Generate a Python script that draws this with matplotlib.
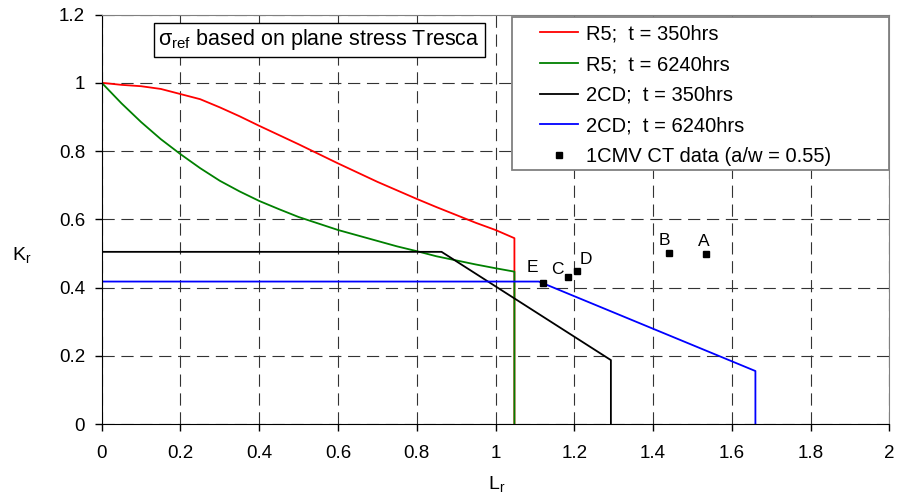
import matplotlib.pyplot as plt
from matplotlib.patches import Rectangle

plt.rcParams['font.family'] = ['Liberation Sans', 'DejaVu Sans']

# R5 failure assessment curves
r5_350_x = [0, 0.05, 0.1, 0.15, 0.2, 0.25, 0.3, 0.35, 0.4, 0.45, 0.5, 0.55, 0.6,
            0.65, 0.7, 0.75, 0.8, 0.85, 0.9, 0.95, 1.0, 1.048, 1.048]
r5_350_y = [1.0, 0.994, 0.99, 0.982, 0.967, 0.952, 0.928, 0.902, 0.874, 0.847, 0.82,
            0.792, 0.764, 0.737, 0.71, 0.685, 0.66, 0.636, 0.613, 0.59, 0.569, 0.545, 0]

r5_6240_x = [0, 0.05, 0.1, 0.15, 0.2, 0.25, 0.3, 0.35, 0.4, 0.45, 0.5, 0.55, 0.6,
             0.65, 0.7, 0.75, 0.8, 0.85, 0.9, 0.95, 1.0, 1.048, 1.048]
r5_6240_y = [1.0, 0.94, 0.885, 0.835, 0.791, 0.75, 0.713, 0.682, 0.654, 0.63, 0.607,
             0.588, 0.569, 0.553, 0.537, 0.521, 0.507, 0.492, 0.48, 0.468, 0.457, 0.447, 0]

# 2CD curves
cd_350_x = [0, 0.863, 1.293, 1.293]
cd_350_y = [0.505, 0.505, 0.188, 0]
cd_6240_x = [0, 1.11, 1.66, 1.66]
cd_6240_y = [0.418, 0.418, 0.156, 0]

# CT test data
ct_labels = ['A', 'B', 'C', 'D', 'E']
ct_x = [1.535, 1.44, 1.183, 1.206, 1.121]
ct_y = [0.498, 0.502, 0.432, 0.449, 0.414]

fig = plt.figure(figsize=(8.98, 5.0), dpi=100)
ax = fig.add_axes([0.1133, 0.1514, 0.877, 0.8196])

ax.plot(r5_350_x, r5_350_y, color='#ff0000', lw=1.3, label='R5;  t = 350hrs')
ax.plot(r5_6240_x, r5_6240_y, color='#008000', lw=1.3, label='R5;  t = 6240hrs')
ax.plot(cd_350_x, cd_350_y, color='black', lw=1.3, label='2CD;  t = 350hrs')
ax.plot(cd_6240_x, cd_6240_y, color='#0000ff', lw=1.3, label='2CD;  t = 6240hrs')
ax.plot(ct_x, ct_y, ls='none', marker='s', ms=4.5, color='black',
        label='1CMV CT data (a/w = 0.55)')

offsets = {'A': (-1.5, 9), 'B': (-3, 9), 'C': (-7, 5.5), 'D': (7, 8.5), 'E': (-7.5, 11)}
for lab, x, y in zip(ct_labels, ct_x, ct_y):
    ax.annotate(lab, (x, y), xytext=offsets[lab], textcoords='offset points',
                ha='center', va='center', fontsize=12.5)

ax.set_xlim(0, 2)
ax.set_ylim(0, 1.2)
ax.set_xticks([0, 0.2, 0.4, 0.6, 0.8, 1, 1.2, 1.4, 1.6, 1.8, 2])
ax.set_xticklabels(['0', '0.2', '0.4', '0.6', '0.8', '1', '1.2', '1.4', '1.6', '1.8', '2'])
ax.set_yticks([0, 0.2, 0.4, 0.6, 0.8, 1, 1.2])
ax.set_yticklabels(['0', '0.2', '0.4', '0.6', '0.8', '1', '1.2'])
ax.tick_params(labelsize=13.5, direction='out', length=5, width=1)
ax.tick_params(axis='x', pad=10)
ax.tick_params(axis='y', pad=7)
ax.grid(True, color='#333333', lw=0.8, ls=(0, (11, 6)))
ax.set_axisbelow(True)

for s in ['top', 'right']:
    ax.spines[s].set_color('#808080')
for s in ['left', 'bottom']:
    ax.spines[s].set_color('black')

ax.set_xlabel('L$_\\mathregular{r}$', fontsize=14, va='center')
ax.xaxis.set_label_coords(0.502, -0.148)
ax.set_ylabel('K$_\\mathregular{r}$', fontsize=14, rotation=0, va='center', ha='center')
ax.yaxis.set_label_coords(-0.102, 0.41)

# legend frame drawn separately so it can span like the original
ax.add_patch(Rectangle((0.521, 0.6205), 0.479, 0.3735, transform=ax.transAxes,
                       fc='white', ec='#808080', lw=1.3, zorder=4, clip_on=False))
leg = ax.legend(loc='upper left', bbox_to_anchor=(0.5565, 0.976), borderaxespad=0,
                borderpad=0, frameon=False, fontsize=14.5, handlelength=1.9,
                handletextpad=0.4, labelspacing=0.58)
leg.set_zorder(5)

ax.text(0.0718, 0.9685, '$\\mathregular{\\sigma_{ref}}$ based on plane stress Tresca',
        transform=ax.transAxes, fontsize=15.5, va='top', ha='left',
        bbox=dict(boxstyle='square,pad=0.22', fc='white', ec='black', lw=1))

fig.savefig('out.png', dpi=100)
